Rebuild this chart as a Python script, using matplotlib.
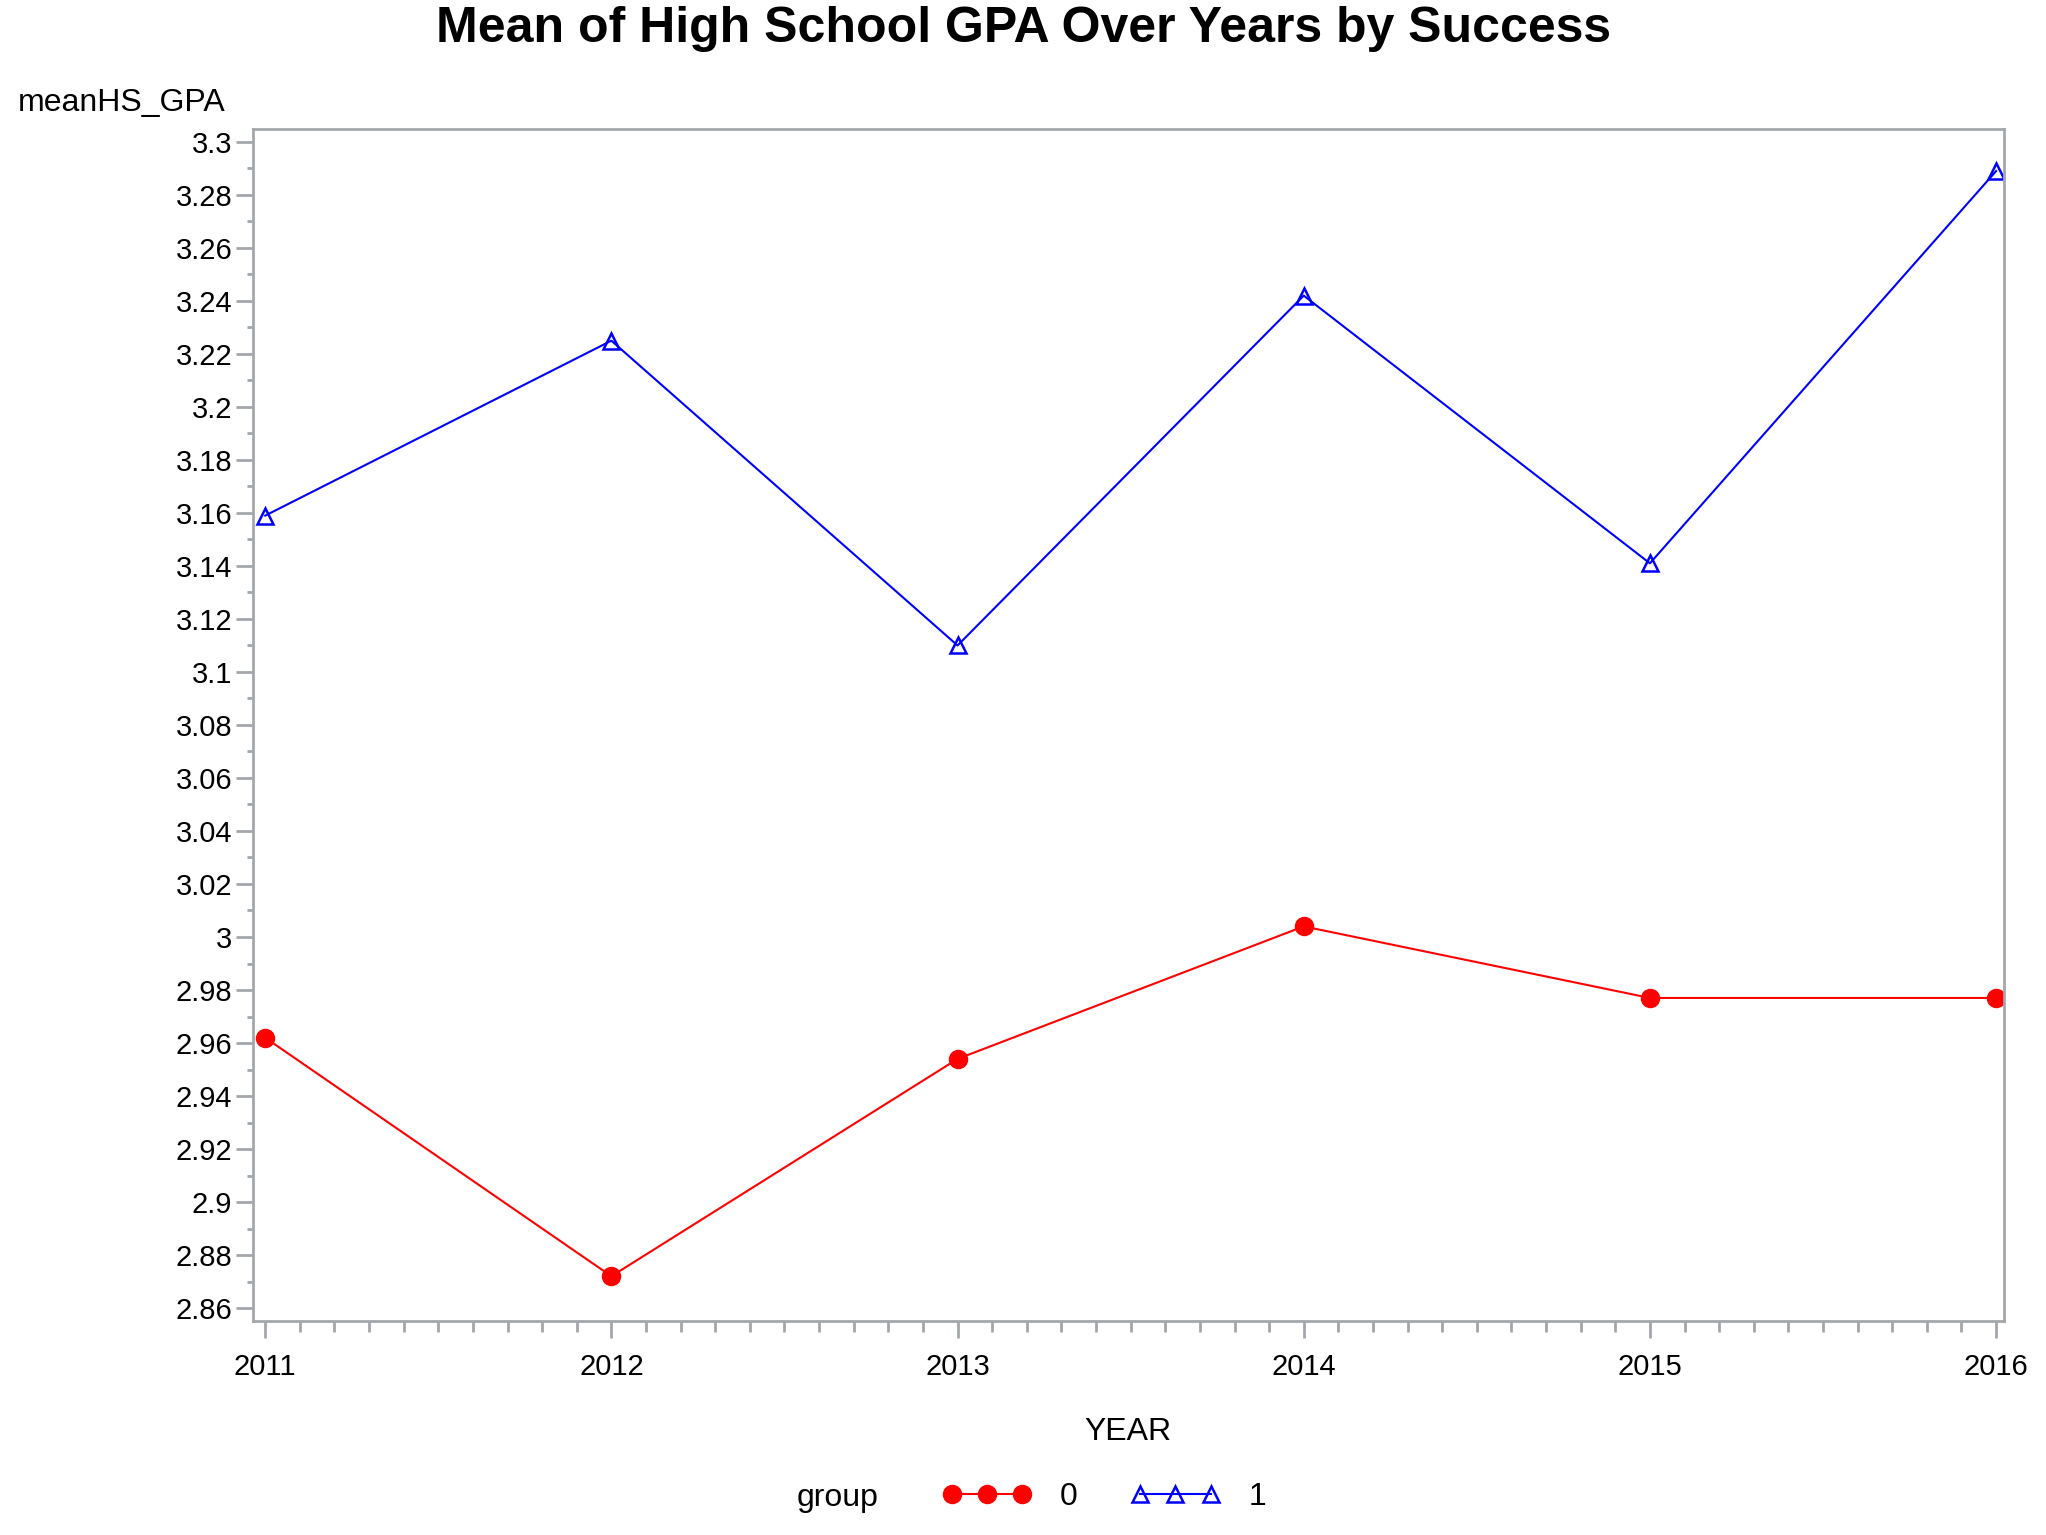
import matplotlib
matplotlib.use('Agg')
import matplotlib.pyplot as plt
from matplotlib.ticker import MultipleLocator, FuncFormatter

plt.rcParams['font.family'] = ['Liberation Sans', 'DejaVu Sans']

# data
years = [2011, 2012, 2013, 2014, 2015, 2016]
gpa_group0 = [2.962, 2.872, 2.954, 3.004, 2.977, 2.977]
gpa_group1 = [3.159, 3.225, 3.110, 3.242, 3.141, 3.289]
group_labels = ['0', '1']

axis_gray = '#A3A7AB'

fig = plt.figure(figsize=(20.46, 15.35), dpi=100)
ax = fig.add_axes([0.1237, 0.1394, 0.9795 - 0.1237, 0.916 - 0.1394])

l0, = ax.plot(years, gpa_group0, color='#FF0000', lw=1.5, marker='o',
              markersize=13, markerfacecolor='#FF0000', markeredgecolor='#FF0000')
l1, = ax.plot(years, gpa_group1, color='#0000FF', lw=1.5, marker='^',
              markersize=11, markerfacecolor='none', markeredgecolor='#0000FF',
              markeredgewidth=1.8)

ax.set_xlim(2010.965, 2016.023)
ax.set_ylim(2.8551, 3.3049)

ax.xaxis.set_major_locator(MultipleLocator(1))
ax.xaxis.set_minor_locator(MultipleLocator(0.1))
ax.yaxis.set_major_locator(MultipleLocator(0.02))
ax.yaxis.set_minor_locator(MultipleLocator(0.01))
ax.yaxis.set_major_formatter(FuncFormatter(lambda v, p: f'{round(v, 2):g}'))
ax.xaxis.set_major_formatter(FuncFormatter(lambda v, p: f'{int(round(v))}'))

for s in ax.spines.values():
    s.set_color(axis_gray)
    s.set_linewidth(2)

ax.tick_params(axis='both', which='both', color=axis_gray, width=2, direction='out')
ax.tick_params(axis='x', which='major', length=12, pad=11, labelsize=21)
ax.tick_params(axis='x', which='minor', length=8)
ax.tick_params(axis='y', which='major', length=12, pad=3, labelsize=21)
ax.tick_params(axis='y', which='minor', length=4)

fig.text(0.5, 1 - 29 / 1535, 'Mean of High School GPA Over Years by Success',
         ha='center', va='center', fontsize=36, fontweight='bold')
fig.text(18 / 2046, 1 - 103 / 1535, 'meanHS_GPA', ha='left', va='center', fontsize=23)
fig.text(1128 / 2046, 1 - 1432 / 1535, 'YEAR', ha='center', va='center', fontsize=23)
fig.text(838 / 2046, 1 - 1498 / 1535, 'group', ha='center', va='center', fontsize=23)

fig.legend([l0, l1], group_labels, loc='center left',
           bbox_to_anchor=(942 / 2046, 1 - 1497 / 1535), ncol=2, frameon=False,
           numpoints=3, handlelength=2.8, handletextpad=0.9, columnspacing=1.65,
           fontsize=23, borderaxespad=0, borderpad=0, markerscale=1.0)

fig.savefig('out.png', dpi=100)
